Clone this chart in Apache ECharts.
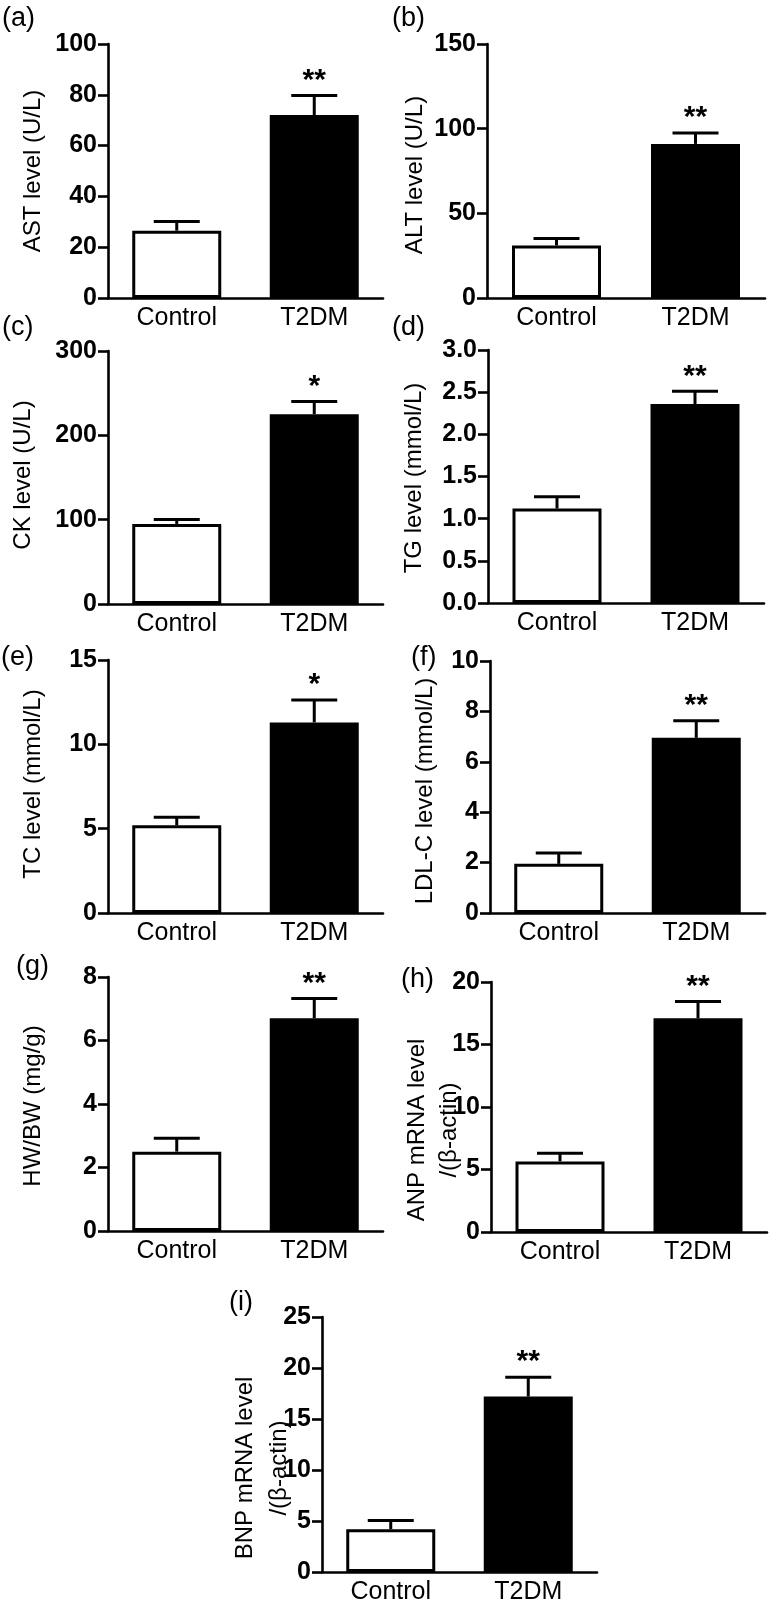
<!DOCTYPE html>
<html>
<head>
<meta charset="utf-8">
<script src="https://cdn.jsdelivr.net/npm/echarts@6/dist/echarts.min.js"></script>
<style>
html,body{margin:0;padding:0;background:#fff;}
#chart{width:773px;height:1606px;}
</style>
</head>
<body>
<div id="chart"></div>
<script>
// ---- data ----
const categories = ['Control', 'T2DM'];
const panelLetters = ['(a)', '(b)', '(c)', '(d)', '(e)', '(f)', '(g)', '(h)', '(i)'];
const yTitles = ['AST level (U/L)', 'ALT level (U/L)', 'CK level (U/L)', 'TG level (mmol/L)',
  'TC level (mmol/L)', 'LDL-C level (mmol/L)', 'HW/BW (mg/g)', 'ANP mRNA level\n/(β-actin)', 'BNP mRNA level\n/(β-actin)'];
const controlMean = [26.5, 31, 95, 1.12, 5.2, 1.95, 2.5, 5.65, 4.2];
const controlErr  = [3.6, 4.2, 5.3, 0.14, 0.48, 0.43, 0.42, 0.65, 0.85];
const t2dmMean    = [72, 91, 225, 2.36, 11.3, 6.95, 6.7, 17.1, 17.2];
const t2dmErr     = [7.7, 6.5, 15, 0.15, 1.33, 0.68, 0.62, 1.35, 1.9];
const significance = ['**', '**', '*', '**', '*', '**', '**', '**', '**'];
const yMax      = [100, 150, 300, 3, 15, 10, 8, 20, 25];
const yInterval = [20, 50, 100, 0.5, 5, 2, 2, 5, 5];
const yDecimals = [0, 0, 0, 1, 0, 0, 0, 0, 0];

// ---- layout (pixels) ----
const grids = [
  {left:108, top:44,   width:275, height:254},
  {left:487, top:44,   width:278, height:254},
  {left:108, top:351,  width:275, height:253},
  {left:488, top:350,  width:276, height:253},
  {left:108, top:660,  width:275, height:253},
  {left:490, top:661,  width:275, height:252},
  {left:108, top:977,  width:275, height:254},
  {left:491, top:982,  width:276, height:250},
  {left:322, top:1317, width:275, height:255}
];
const letterPos = [[2,19],[392,19],[2,328],[392,328],[1,658],[411,658],[16,967],[401,980],[229,1303]];
const titlePos = [[33.5,171],[415,175],[23.5,475],[414.5,478],[33.5,784],[425,791],[33,1106],[433.5,1130],[262,1468]];

const FONT = 'Liberation Sans, Arial, Helvetica, sans-serif';
const LW = 2.6;

const option = {
  backgroundColor: '#fff',
  animation: false,
  grid: [], xAxis: [], yAxis: [], series: [], graphic: []
};

grids.forEach((g, i) => {
  option.grid.push(Object.assign({containLabel:false}, g));
  option.xAxis.push({
    type: 'category', gridIndex: i, data: categories,
    axisLine: {lineStyle: {color:'#000', width: LW}},
    axisTick: {alignWithLabel: true, length: 7, lineStyle: {color:'#000', width: LW}},
    axisLabel: {color:'#000', fontSize: 25, fontFamily: FONT, margin: 8}
  });
  option.yAxis.push({
    type: 'value', gridIndex: i, min: 0, max: yMax[i], interval: yInterval[i],
    splitLine: {show:false},
    axisLine: {show:true, lineStyle: {color:'#000', width: LW}},
    axisTick: {show:true, length: 10, lineStyle: {color:'#000', width: LW}},
    axisLabel: {color:'#000', fontSize: 25, fontWeight:'bold', fontFamily: FONT, margin: 11,
      formatter: v => v.toFixed(yDecimals[i])}
  });
  option.series.push({
    type: 'bar', xAxisIndex: i, yAxisIndex: i, barWidth: 89,
    data: [
      {value: controlMean[i], itemStyle: {color:'#fff', borderColor:'#000', borderWidth: 3}},
      {value: t2dmMean[i], itemStyle: {color:'#000', borderColor:'#000', borderWidth: 3}}
    ]
  });
  option.series.push({
    type: 'custom', xAxisIndex: i, yAxisIndex: i, z: 5,
    data: [[0, controlMean[i], controlErr[i]], [1, t2dmMean[i], t2dmErr[i]]],
    renderItem: function (params, api) {
      const idx = api.value(0), v = api.value(1), e = api.value(2);
      const base = api.coord([idx, v]);
      const top = api.coord([idx, v + e]);
      const half = 23;
      const st = {stroke:'#000', lineWidth: 3};
      const children = [
        {type:'line', shape:{x1:base[0], y1:base[1], x2:top[0], y2:top[1]}, style: st},
        {type:'line', shape:{x1:top[0]-half, y1:top[1], x2:top[0]+half, y2:top[1]}, style: st}
      ];
      const lab = idx === 1 ? significance[(params.seriesIndex - 1) / 2] : '';
      if (lab) {
        children.push({type:'text', x: top[0], y: top[1] - 15,
          style: {text: lab, fill:'#000', fontSize: 30, fontWeight:'bold', fontFamily: FONT, align:'center', verticalAlign:'middle'}});
      }
      return {type:'group', children};
    }
  });
  option.graphic.push({
    type:'text', x: letterPos[i][0], y: letterPos[i][1],
    style: {text: panelLetters[i], fill:'#000', fontSize: 27, fontFamily: FONT, align:'left', verticalAlign:'middle'}
  });
  option.graphic.push({
    type:'text', x: titlePos[i][0], y: titlePos[i][1], rotation: Math.PI/2,
    style: {text: yTitles[i], fill:'#000', fontSize: 24, fontFamily: FONT, align:'center', verticalAlign:'middle', lineHeight: i === 8 ? 34 : 32}
  });
});

const chart = echarts.init(document.getElementById('chart'), null, {renderer:'canvas'});
chart.setOption(option);
</script>
</body>
</html>
